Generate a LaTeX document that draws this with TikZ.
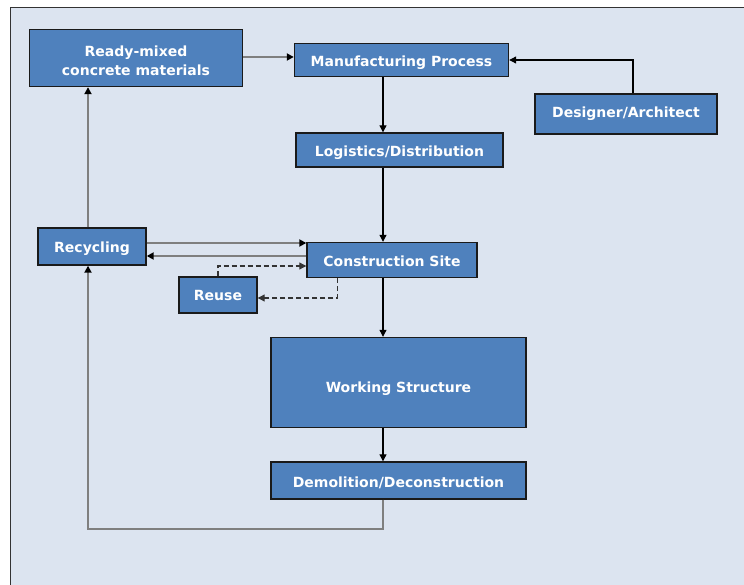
\documentclass[tikz,border=0pt]{standalone}
\usepackage{fontspec}
\setmainfont{DejaVu Sans}
\usetikzlibrary{arrows.meta}
\definecolor{bg}{HTML}{DCE4F0}
\definecolor{boxblue}{HTML}{4F81BD}
\definecolor{edge}{HTML}{1A1A1A}
\definecolor{gline}{HTML}{7F7F7F}
\newcommand\lowtxt[2]{\raisebox{-#1}[\height][\depth]{#2}}
\begin{document}
\begin{tikzpicture}[x=1pt,y=-1pt,
  box/.style={draw=edge, line width=1.4pt, fill=boxblue, text=white,
    font=\bfseries\fontsize{14}{19}\selectfont, align=center, inner sep=0pt},
  arr/.style={draw=black, line width=1.1pt, -{Triangle[length=7pt,width=7pt]}},
  garr/.style={draw=gline, line width=1.8pt, -{Triangle[length=7pt,width=7pt,fill=black,color=black]}},
  darr/.style={draw=black!80, line width=1.1pt, dash pattern=on 5pt off 3pt, -{Triangle[length=7pt,width=7pt]}}
]
\useasboundingbox (0,0) rectangle (744,585);
\fill[white] (0,0) rectangle (744,585);
\fill[bg] (10,8) rectangle (744,585);
\draw[black!80, line width=1pt] (10,585) -- (10,8) -- (744,8);

\node[box, minimum width=213, minimum height=57] (rm) at (136,58) {\lowtxt{3pt}{Ready-mixed}\\\lowtxt{3pt}{concrete materials}};
\node[box, minimum width=214, minimum height=33] (mp) at (401.5,60) {\lowtxt{3pt}{Manufacturing Process}};
\node[box, minimum width=182, minimum height=40] (da) at (626,114) {Designer/Architect};
\node[box, minimum width=207, minimum height=34] (ld) at (399.5,150) {\lowtxt{3pt}{Logistics/Distribution}};
\node[box, minimum width=108, minimum height=37] (rc) at (92,246.5) {\lowtxt{2pt}{Recycling}};
\node[box, minimum width=170, minimum height=35] (cs) at (392,260) {\lowtxt{1pt}{Construction Site}};
\node[box, minimum width=78, minimum height=36] (ru) at (218,295) {Reuse};
\node[box, minimum width=255, minimum height=90] (ws) at (398.5,382.5) {\lowtxt{6pt}{Working Structure}};
\node[box, minimum width=255, minimum height=37] (dd) at (398.5,480.5) {\lowtxt{2pt}{Demolition/Deconstruction}};

\coordinate (v) at (383,0);
\coordinate (bl) at (88,529);

\draw[garr] (rm.east |- 0,57) -- (mp.west |- 0,57);
\draw[arr] (633,0 |- da.north) |- (mp.east);
\draw[arr] (v |- mp.south) -- (v |- ld.north);
\draw[arr] (v |- ld.south) -- (v |- cs.north);
\draw[garr] (rc.east |- 0,243) -- (cs.west |- 0,243);
\draw[garr] (cs.west |- 0,256) -- (rc.east |- 0,256);
\draw[darr] (ru.north) |- (cs.west |- 0,266);
\draw[darr] (337.5,0 |- cs.south) |- (ru.east |- 0,298);
\draw[arr] (v |- cs.south) -- (v |- ws.north);
\draw[arr] (v |- ws.south) -- (v |- dd.north);
\draw[garr] (v |- dd.south) |- (bl) -- (bl |- rc.south);
\draw[garr] (bl |- rc.north) -- (bl |- rm.south);
\end{tikzpicture}
\end{document}
